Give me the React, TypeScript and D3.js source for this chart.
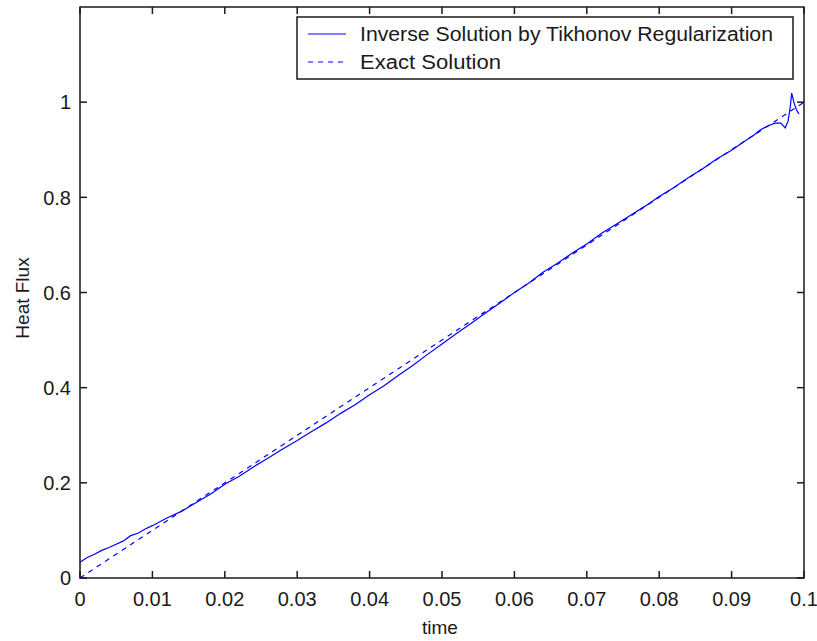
import React from "react";
import * as d3 from "d3";

// time samples and heat flux values
const exactTime = [0, 0.01, 0.02, 0.03, 0.04, 0.05, 0.06, 0.07, 0.08, 0.09, 0.1];
const exactFlux = [0, 0.1, 0.2, 0.3, 0.4, 0.5, 0.6, 0.7, 0.8, 0.9, 1.0];

const inverseTime = [
  0, 0.001, 0.002, 0.003, 0.004, 0.005, 0.006, 0.007, 0.008, 0.009, 0.01, 0.012, 0.014,
  0.016, 0.018, 0.02, 0.022, 0.024, 0.026, 0.028, 0.03, 0.032, 0.034, 0.036, 0.038, 0.04,
  0.042, 0.044, 0.046, 0.048, 0.05, 0.052, 0.054, 0.056, 0.058, 0.06, 0.062, 0.064, 0.066,
  0.068, 0.07, 0.072, 0.074, 0.076, 0.078, 0.08, 0.082, 0.084, 0.086, 0.088, 0.09, 0.092,
  0.093, 0.094, 0.095, 0.096, 0.0968, 0.0974, 0.0978, 0.0981, 0.0983, 0.0986, 0.0989,
  0.0991, 0.0993,
];
const inverseFlux = [
  0.033, 0.043, 0.05, 0.058, 0.064, 0.071, 0.078, 0.089, 0.094, 0.103, 0.11, 0.126, 0.14,
  0.158, 0.176, 0.197, 0.214, 0.234, 0.252, 0.271, 0.289, 0.308, 0.326, 0.346, 0.364, 0.385,
  0.404, 0.426, 0.447, 0.47, 0.492, 0.514, 0.535, 0.557, 0.578, 0.6, 0.62, 0.643, 0.662,
  0.683, 0.702, 0.724, 0.743, 0.762, 0.781, 0.802, 0.82, 0.841, 0.86, 0.881, 0.899, 0.92,
  0.93, 0.942, 0.95, 0.956, 0.956, 0.946, 0.96, 0.99, 1.019, 1.0, 0.986, 0.98, 0.975,
];

const xTicks = [0, 0.01, 0.02, 0.03, 0.04, 0.05, 0.06, 0.07, 0.08, 0.09, 0.1];
const yTicks = [0, 0.2, 0.4, 0.6, 0.8, 1];

const seriesNames = ["Inverse Solution by Tikhonov Regularization", "Exact Solution"];

export default function App() {
  const W = 817;
  const H = 641;
  const left = 80;
  const right = 804;
  const top = 7;
  const bottom = 578;
  const font = "'Liberation Sans', Arial, sans-serif";
  const blue = "#0000ff";
  const ink = "#1a1a1a";

  const x = d3.scaleLinear().domain([0, 0.1]).range([left, right]);
  const y = d3.scaleLinear().domain([0, 1.2]).range([bottom, top]);

  const line = d3
    .line<[number, number]>()
    .x((d) => x(d[0]))
    .y((d) => y(d[1]));

  const exactPts = exactTime.map((t, i) => [t, exactFlux[i]] as [number, number]);
  const invPts = inverseTime.map((t, i) => [t, inverseFlux[i]] as [number, number]);

  const tickLen = 7;
  const fmt = (v: number) => (v === 0 ? "0" : String(+v.toFixed(2)));

  return (
    <svg
      width={W}
      height={H}
      style={{ position: "absolute", left: 0, top: 0, background: "#fff" }}
      fontFamily={font}
    >
      <rect x={0} y={0} width={W} height={H} fill="#fff" />
      {/* data */}
      <path d={line(invPts) ?? ""} fill="none" stroke={blue} strokeWidth={1.2} />
      <path
        d={line(exactPts) ?? ""}
        fill="none"
        stroke={blue}
        strokeWidth={1.2}
        strokeDasharray="5,5"
      />

      {/* axes box */}
      <rect
        x={left}
        y={top}
        width={right - left}
        height={bottom - top}
        fill="none"
        stroke={ink}
        strokeWidth={1.5}
      />

      {/* x ticks */}
      {xTicks.map((t) => (
        <g key={"x" + t}>
          <line x1={x(t)} x2={x(t)} y1={bottom} y2={bottom - tickLen} stroke={ink} strokeWidth={1.5} />
          <line x1={x(t)} x2={x(t)} y1={top} y2={top + tickLen} stroke={ink} strokeWidth={1.5} />
          <text x={x(t)} y={606} fontSize={20} textAnchor="middle" fill={ink}>
            {fmt(t)}
          </text>
        </g>
      ))}

      {/* y ticks */}
      {yTicks.map((t) => (
        <g key={"y" + t}>
          <line x1={left} x2={left + tickLen} y1={y(t)} y2={y(t)} stroke={ink} strokeWidth={1.5} />
          <line x1={right} x2={right - tickLen} y1={y(t)} y2={y(t)} stroke={ink} strokeWidth={1.5} />
          <text x={71} y={y(t)} dy="0.36em" fontSize={20} textAnchor="end" fill={ink}>
            {fmt(t)}
          </text>
        </g>
      ))}

      {/* axis labels */}
      <text x={440} y={634} fontSize={19} textAnchor="middle" fill={ink}>
        time
      </text>
      <text
        transform={`translate(29, 298) rotate(-90)`}
        fontSize={19}
        textAnchor="middle"
        fill={ink}
      >
        Heat Flux
      </text>

      {/* legend */}
      <rect x={297} y={17} width={496} height={62} fill="#fff" stroke={ink} strokeWidth={1.5} />
      <line x1={308} x2={346} y1={34} y2={34} stroke={blue} strokeWidth={1.2} />
      <line x1={308} x2={346} y1={62} y2={62} stroke={blue} strokeWidth={1.2} strokeDasharray="5,5" />
      <text x={360} y={34} dy="0.36em" fontSize={20} fill={ink} textLength={413} lengthAdjust="spacingAndGlyphs">
        {seriesNames[0]}
      </text>
      <text x={360} y={62} dy="0.36em" fontSize={20} fill={ink} textLength={141} lengthAdjust="spacingAndGlyphs">
        {seriesNames[1]}
      </text>
    </svg>
  );
}
